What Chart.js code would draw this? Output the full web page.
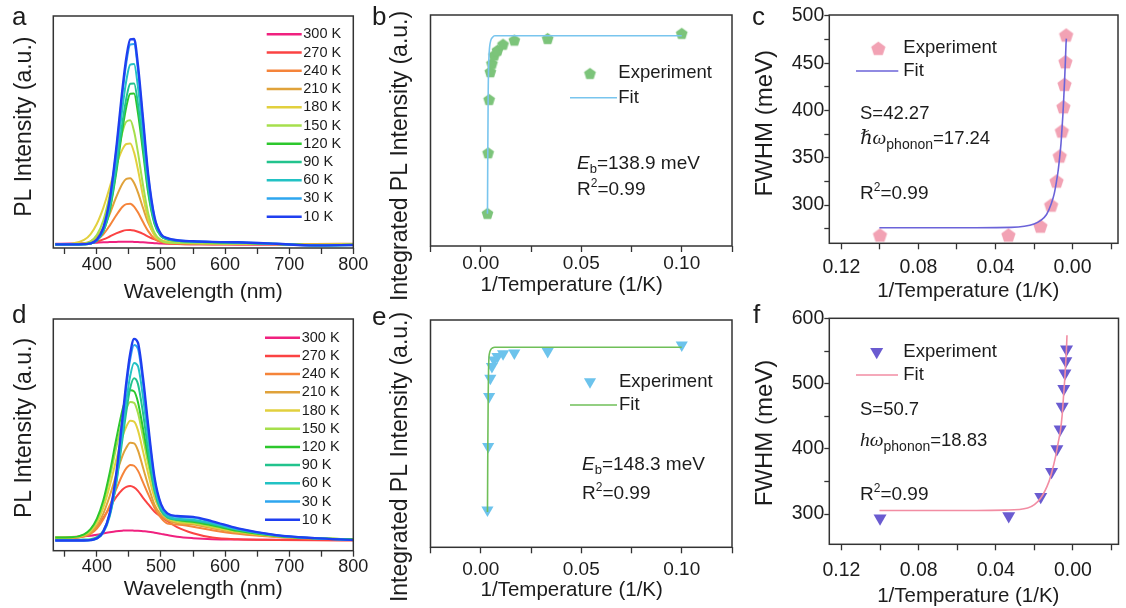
<!DOCTYPE html>
<html>
<head>
<meta charset="utf-8">
<script src="https://cdn.jsdelivr.net/npm/chart.js@4.4.0/dist/chart.umd.min.js"></script>
<style>
  html, body { margin: 0; padding: 0; background: #fff; }
  #wrap { position: relative; width: 1126px; height: 608px; overflow: hidden; background: #fff; }
  canvas { position: absolute; }
</style>
</head>
<body>
<div id="wrap"></div>
<script>
// ---- data ----
const wavelength = [335, 360, 380, 390, 400, 410, 420, 430, 440, 446, 452, 458, 464, 472, 480, 490, 500, 510, 525, 550, 580, 620, 680, 740, 800];
const tempLabels = ['300 K', '270 K', '240 K', '210 K', '180 K', '150 K', '120 K', '90 K', '60 K', '30 K', '10 K'];
const tempColors = ['#f0217f', '#fb4343', '#f5843a', '#e0a23a', '#e2d03e', '#a6df4c', '#2cc72c', '#22c38d', '#22c2c4', '#2ea6ef', '#1f3ff0'];

// panel a spectra (a.u.), same order as tempLabels
const a300 = [0.006, 0.007, 0.008, 0.009, 0.011, 0.013, 0.014, 0.015, 0.016, 0.016, 0.016, 0.015, 0.014, 0.013, 0.011, 0.009, 0.007, 0.006, 0.005, 0.004, 0.004, 0.003, 0.003, 0.003, 0.003];
const a270 = [0.004, 0.004, 0.006, 0.01, 0.016, 0.027, 0.041, 0.056, 0.068, 0.072, 0.073, 0.07, 0.064, 0.054, 0.041, 0.027, 0.016, 0.01, 0.005, 0.004, 0.003, 0.003, 0.003, 0.003, 0.004];
const a240 = [0.004, 0.004, 0.006, 0.012, 0.026, 0.052, 0.094, 0.143, 0.185, 0.198, 0.2, 0.186, 0.158, 0.111, 0.067, 0.03, 0.015, 0.009, 0.007, 0.006, 0.006, 0.006, 0.005, 0.005, 0.006];
const a210 = [0.003, 0.003, 0.008, 0.017, 0.04, 0.083, 0.15, 0.231, 0.298, 0.32, 0.323, 0.3, 0.255, 0.179, 0.108, 0.05, 0.024, 0.014, 0.01, 0.008, 0.007, 0.006, 0.005, 0.004, 0.005];
const a180 = [0.003, 0.006, 0.025, 0.052, 0.103, 0.18, 0.279, 0.384, 0.464, 0.489, 0.491, 0.448, 0.366, 0.236, 0.125, 0.045, 0.023, 0.015, 0.012, 0.01, 0.008, 0.007, 0.005, 0.003, 0.004];
const a150 = [0.003, 0.003, 0.007, 0.017, 0.049, 0.118, 0.242, 0.402, 0.548, 0.597, 0.603, 0.55, 0.449, 0.289, 0.154, 0.058, 0.022, 0.012, 0.01, 0.008, 0.007, 0.006, 0.004, 0.0, 0.002];
const a120 = [0.003, 0.003, 0.004, 0.007, 0.022, 0.066, 0.166, 0.345, 0.562, 0.67, 0.732, 0.733, 0.64, 0.449, 0.252, 0.1, 0.042, 0.027, 0.02, 0.016, 0.013, 0.011, 0.005, -0.001, 0.001];
const a90 = [0.003, 0.003, 0.004, 0.007, 0.021, 0.066, 0.172, 0.362, 0.595, 0.712, 0.78, 0.782, 0.684, 0.479, 0.269, 0.105, 0.044, 0.028, 0.02, 0.016, 0.013, 0.011, 0.005, -0.002, 0.0];
const a60 = [0.003, 0.003, 0.004, 0.007, 0.023, 0.073, 0.193, 0.405, 0.666, 0.797, 0.873, 0.876, 0.766, 0.536, 0.301, 0.117, 0.048, 0.03, 0.021, 0.017, 0.014, 0.012, 0.006, -0.002, 0.0];
const a30 = [0.003, 0.003, 0.004, 0.008, 0.025, 0.081, 0.213, 0.449, 0.738, 0.883, 0.97, 0.972, 0.85, 0.594, 0.333, 0.13, 0.052, 0.032, 0.023, 0.018, 0.015, 0.013, 0.006, -0.002, 0.0];
const a10 = [0.003, 0.003, 0.004, 0.008, 0.026, 0.083, 0.219, 0.461, 0.758, 0.907, 0.995, 0.997, 0.872, 0.61, 0.342, 0.133, 0.053, 0.033, 0.023, 0.018, 0.015, 0.013, 0.006, -0.002, 0.0];

// panel d spectra (a.u.)
const d300 = [0.012, 0.014, 0.018, 0.021, 0.026, 0.032, 0.038, 0.043, 0.046, 0.047, 0.047, 0.046, 0.045, 0.043, 0.041, 0.036, 0.03, 0.024, 0.016, 0.009, 0.004, 0.002, 0.001, 0.0, 0.0];
const d270 = [0.003, 0.007, 0.02, 0.038, 0.067, 0.109, 0.16, 0.211, 0.249, 0.262, 0.266, 0.259, 0.242, 0.208, 0.177, 0.139, 0.115, 0.093, 0.063, 0.033, 0.012, 0.003, 0.0, -0.002, -0.003];
const d240 = [0.008, 0.009, 0.017, 0.03, 0.056, 0.102, 0.17, 0.249, 0.322, 0.354, 0.37, 0.366, 0.342, 0.284, 0.226, 0.158, 0.109, 0.081, 0.076, 0.065, 0.048, 0.03, 0.014, 0.006, 0.004];
const d210 = [0.01, 0.011, 0.02, 0.036, 0.07, 0.13, 0.217, 0.32, 0.416, 0.456, 0.479, 0.476, 0.442, 0.356, 0.269, 0.173, 0.124, 0.098, 0.083, 0.076, 0.058, 0.036, 0.016, 0.007, 0.004];
const d180 = [0.012, 0.013, 0.024, 0.044, 0.086, 0.159, 0.266, 0.393, 0.511, 0.56, 0.588, 0.584, 0.542, 0.437, 0.327, 0.207, 0.141, 0.108, 0.09, 0.082, 0.064, 0.04, 0.018, 0.008, 0.004];
const d150 = [0.012, 0.013, 0.026, 0.05, 0.098, 0.182, 0.307, 0.454, 0.59, 0.648, 0.68, 0.676, 0.627, 0.506, 0.376, 0.235, 0.156, 0.115, 0.094, 0.086, 0.068, 0.043, 0.019, 0.008, 0.004];
const d120 = [0.012, 0.013, 0.028, 0.053, 0.105, 0.196, 0.332, 0.494, 0.644, 0.705, 0.739, 0.733, 0.681, 0.549, 0.408, 0.254, 0.167, 0.123, 0.099, 0.09, 0.072, 0.045, 0.02, 0.008, 0.004];
const d90 = [0.0, 0.0, 0.002, 0.004, 0.014, 0.046, 0.125, 0.275, 0.5, 0.635, 0.75, 0.798, 0.77, 0.625, 0.44, 0.24, 0.145, 0.11, 0.1, 0.095, 0.078, 0.05, 0.022, 0.008, 0.001];
const d60 = [-0.002, -0.002, -0.002, 0.0, 0.007, 0.036, 0.116, 0.283, 0.532, 0.687, 0.81, 0.873, 0.857, 0.703, 0.498, 0.27, 0.158, 0.117, 0.105, 0.1, 0.082, 0.051, 0.022, 0.008, 0.0];
const d30 = [-0.003, -0.003, -0.003, -0.001, 0.008, 0.04, 0.128, 0.312, 0.586, 0.757, 0.892, 0.962, 0.944, 0.774, 0.549, 0.297, 0.172, 0.127, 0.114, 0.11, 0.089, 0.055, 0.023, 0.009, 0.0];
const d10 = [-0.003, -0.003, -0.003, -0.001, 0.008, 0.041, 0.132, 0.322, 0.604, 0.78, 0.92, 0.992, 0.973, 0.798, 0.566, 0.306, 0.177, 0.131, 0.118, 0.114, 0.092, 0.057, 0.024, 0.009, 0.0];

// 1/T for 300, 270, ... 10 K
const invT = [0.00333, 0.0037, 0.00417, 0.00476, 0.00556, 0.00667, 0.00833, 0.0111, 0.0167, 0.0333, 0.1];
const intensityB = [0.142, 0.404, 0.635, 0.755, 0.791, 0.827, 0.848, 0.874, 0.892, 0.899, 0.921];
const intensityE = [0.164, 0.443, 0.663, 0.744, 0.795, 0.824, 0.839, 0.852, 0.855, 0.861, 0.89];
const fitXB = [0.00335, 0.0035, 0.0037, 0.004, 0.0044, 0.005, 0.0058, 0.007, 0.1];
const fitYB = [0.14, 0.4, 0.66, 0.8, 0.86, 0.89, 0.903, 0.91, 0.91];
const fitYE = [0.155, 0.42, 0.66, 0.82, 0.855, 0.87, 0.877, 0.88, 0.88];

const fwhmC = [479.9, 451.6, 427.7, 404, 378.3, 351.9, 325.4, 300, 277.8, 268.3, 268.3];
const fwhmF = [553.4, 535.4, 516.5, 492.5, 465.2, 430.4, 400, 365, 326.6, 296.9, 293.4];
const fitXC = [0.1003, 0.05, 0.032, 0.025, 0.02, 0.0167, 0.0135, 0.0111, 0.0095, 0.00833, 0.0075, 0.00667, 0.006, 0.00556, 0.005, 0.00476, 0.00417, 0.0037, 0.0034, 0.0032];
const fitYC = [276, 276, 276.3, 277.5, 280, 283.5, 290, 301, 312, 325, 336, 351, 365, 378, 396, 405, 430, 453, 470, 476];
const fitXF = [0.1003, 0.05, 0.035, 0.0235, 0.0167, 0.0124, 0.0111, 0.009, 0.00833, 0.0075, 0.0065, 0.0056, 0.0048, 0.0042, 0.0038, 0.0034, 0.0031];
const fitYF = [305.5, 305.5, 306, 309.2, 324.6, 350.2, 363, 388.6, 399, 412, 428.2, 452, 485, 510, 530, 552, 575];

// ticks
const tickWl = [350, 400, 450, 500, 550, 600, 650, 700, 750, 800];
const labelWl = [400, 500, 600, 700, 800];
const tickInvT = [-0.025, 0, 0.025, 0.05, 0.075, 0.1, 0.125];
const labelInvT = [0, 0.05, 0.1];
const tickInvTRev = [-0.02, 0, 0.02, 0.04, 0.06, 0.08, 0.1, 0.12];
const labelInvTRev = [0, 0.04, 0.08, 0.12];
const tickFwhmC = [275, 300, 325, 350, 375, 400, 425, 450, 475, 500];
const labelFwhmC = [300, 350, 400, 450, 500];
const tickFwhmF = [300, 350, 400, 450, 500, 550, 600];
const labelFwhmF = [300, 400, 500, 600];

// ---- drawing ----
const FONT = "'Liberation Sans', Arial, Helvetica, sans-serif";
const SERIF = "'Liberation Serif', 'DejaVu Serif', serif";
const INK = '#1c1c1c';
const AXIS = '#333333';
const wrap = document.getElementById('wrap');

const pentagonPath = (g, cx, cy, r) => {
  g.beginPath();
  for (let i = 0; i < 5; i++) {
    const ang = -Math.PI / 2 + i * 2 * Math.PI / 5;
    const px = cx + r * Math.cos(ang);
    const py = cy + r * Math.sin(ang);
    if (i) g.lineTo(px, py); else g.moveTo(px, py);
  }
  g.closePath();
};

const pentagonImage = (r, color) => {
  const c = document.createElement('canvas');
  const s = Math.ceil(r * 2 + 2);
  c.width = s; c.height = s;
  const g = c.getContext('2d');
  pentagonPath(g, s / 2, s / 2 + r * 0.1, r);
  g.fillStyle = color;
  g.fill();
  return c;
};

const drawTriangleDown = (ctx, x, y, r, color) => {
  ctx.beginPath();
  ctx.moveTo(x - r * 0.866, y - r * 0.5);
  ctx.lineTo(x + r * 0.866, y - r * 0.5);
  ctx.lineTo(x, y + r);
  ctx.closePath();
  ctx.fillStyle = color;
  ctx.fill();
};

const labelFor = (v, labels, digits) =>
  labels.some((l) => Math.abs(l - v) < 1e-9) ? Number(v).toFixed(digits) : '';

const text = (ctx, s, x, y, size, o = {}) => {
  ctx.font = `${o.style || ''} ${size}px ${o.family || FONT}`;
  ctx.fillStyle = INK;
  ctx.textAlign = o.align || 'left';
  ctx.textBaseline = o.base || 'alphabetic';
  if (o.rot) {
    ctx.save();
    ctx.translate(x, y);
    ctx.rotate(-Math.PI / 2);
    ctx.fillText(s, 0, 0);
    ctx.restore();
  } else {
    ctx.fillText(s, x, y);
  }
};

// pieces: [text, size, dy, style, family]
const runs = (ctx, x, y, pieces) => {
  let cx = x;
  pieces.forEach(([s, size, dy = 0, style = '', family = FONT]) => {
    ctx.font = `${style} ${size}px ${family}`;
    ctx.fillStyle = INK;
    ctx.textAlign = 'left';
    ctx.textBaseline = 'alphabetic';
    ctx.fillText(s, cx, y + dy);
    cx += ctx.measureText(s).width;
  });
};

const axisX = (o, height) => ({
  type: 'linear', position: 'bottom', min: o.min, max: o.max, reverse: !!o.reverse,
  afterBuildTicks: (s) => { s.ticks = o.ticks.map((v) => ({ value: v })); },
  afterFit: (s) => { s.height = height; },
  border: { display: false },
  grid: { display: true, drawOnChartArea: false, drawTicks: true, tickLength: o.tl || 6, tickColor: AXIS, tickWidth: 1.3 },
  ticks: {
    autoSkip: false, maxRotation: 0, minRotation: 0, padding: o.pad, color: INK,
    font: { family: FONT, size: o.size },
    callback: (v) => labelFor(v, o.labels, o.digits),
  },
});

const axisY = (o, width) => {
  const withTicks = !!o.ticks;
  const scale = {
    type: 'linear', position: 'left', min: o.min, max: o.max,
    afterFit: (s) => { s.width = width; },
    border: { display: false },
    grid: { display: withTicks, drawOnChartArea: false, drawTicks: true, tickLength: 5, tickColor: AXIS, tickWidth: 1.3 },
    ticks: {
      display: withTicks, autoSkip: false, padding: 0, color: INK,
      font: { family: FONT, size: o.size || 19 },
      callback: (v) => labelFor(v, o.labels || [], 0),
    },
  };
  if (withTicks) scale.afterBuildTicks = (s) => { s.ticks = o.ticks.map((v) => ({ value: v })); };
  return scale;
};

const buildPanel = (box, plot, o) => {
  const cv = document.createElement('canvas');
  cv.width = box.w; cv.height = box.h;
  cv.style.left = box.x + 'px';
  cv.style.top = box.y + 'px';
  wrap.appendChild(cv);
  return new Chart(cv.getContext('2d'), {
    type: 'scatter',
    data: { datasets: o.datasets },
    options: {
      responsive: false, animation: false, events: [],
      layout: { padding: { top: plot.t - box.y, right: box.x + box.w - plot.r, left: 0, bottom: 0 } },
      plugins: { legend: { display: false }, tooltip: { enabled: false } },
      scales: { x: axisX(o.x, box.y + box.h - plot.b), y: axisY(o.y, plot.l - box.x) },
    },
    plugins: [{
      id: 'decor',
      afterDraw(chart) {
        const ctx = chart.ctx;
        const a = chart.chartArea;
        ctx.save();
        ctx.strokeStyle = AXIS;
        ctx.lineWidth = 1.5;
        ctx.strokeRect(a.left, a.top, a.right - a.left, a.bottom - a.top);
        ctx.translate(-box.x, -box.y);
        o.decor(ctx);
        ctx.restore();
      },
    }],
  });
};

const spectra = (arrays) => arrays.map((arr, i) => ({
  data: wavelength.map((w, k) => ({ x: w, y: arr[k] })),
  showLine: true, pointRadius: 0, borderColor: tempColors[i],
  borderWidth: i === arrays.length - 1 ? 2.4 : 2, cubicInterpolationMode: 'monotone',
})).reverse();

const xy = (xs, ys) => xs.map((x, i) => ({ x, y: ys[i] }));

const spectraLegend = (ctx, x0, x1, tx, y0, step) => {
  tempLabels.forEach((lab, i) => {
    const y = y0 + i * step;
    ctx.strokeStyle = tempColors[i];
    ctx.lineWidth = 2.5;
    ctx.beginPath(); ctx.moveTo(x0, y); ctx.lineTo(x1, y); ctx.stroke();
    text(ctx, lab, tx, y, 14.5, { base: 'middle' });
  });
};

const fitLegend = (ctx, marker, mx, my, tx, lx0, lx1, ly, color) => {
  marker(ctx, mx, my);
  text(ctx, 'Experiment', tx, my, 18.5, { base: 'middle' });
  ctx.strokeStyle = color;
  ctx.lineWidth = 1.6;
  ctx.beginPath(); ctx.moveTo(lx0, ly); ctx.lineTo(lx1, ly); ctx.stroke();
  text(ctx, 'Fit', tx, ly, 18.5, { base: 'middle' });
};

const eb = (ctx, x, y, value) => runs(ctx, x, y, [['E', 19, 0, 'italic'], ['b', 13, 4], ['=' + value + ' meV', 19]]);
const r2 = (ctx, x, y) => runs(ctx, x, y, [['R', 19], ['2', 12, -8], ['=0.99', 19]]);

// marker colours
const greenPent = '#7cc47a';
const pinkPent = '#f2a2b4';
const blueTri = '#6cc3ec';
const purpleTri = '#6a5bd0';
const pentB = pentagonImage(6.2, greenPent);
const pentC = pentagonImage(7.5, pinkPent);

// panel a
buildPanel({ x: 0, y: 0, w: 370, h: 305 }, { l: 53.3, t: 16, r: 353.3, b: 248 }, {
  datasets: spectra([a300, a270, a240, a210, a180, a150, a120, a90, a60, a30, a10]),
  x: { min: 332, max: 800, ticks: tickWl, labels: labelWl, digits: 0, size: 18, pad: 0, tl: 6 },
  y: { min: -0.0145, max: 1.108 },
  decor: (ctx) => {
    text(ctx, 'a', 12, 25, 26);
    text(ctx, 'PL Intensity (a.u.)', 31, 126.7, 23, { rot: true, align: 'center' });
    text(ctx, 'Wavelength (nm)', 203.3, 298, 21, { align: 'center' });
    spectraLegend(ctx, 266.7, 301.7, 303.3, 34.3, 18.24);
  },
});

// panel b
buildPanel({ x: 370, y: 0, w: 380, h: 305 }, { l: 430.5, t: 15, r: 732, b: 246 }, {
  datasets: [
    { data: xy(fitXB, fitYB), showLine: true, pointRadius: 0, borderColor: '#79c5ee', borderWidth: 1.6, cubicInterpolationMode: 'monotone' },
    { data: xy(invT, intensityB), showLine: false, pointStyle: pentB, pointRadius: 6 },
  ],
  x: { min: -0.025, max: 0.125, ticks: tickInvT, labels: labelInvT, digits: 2, size: 19, pad: 0, tl: 6 },
  y: { min: 0, max: 1 },
  decor: (ctx) => {
    text(ctx, 'b', 372, 25, 26);
    text(ctx, 'Integrated PL Intensity (a.u.)', 407, 156, 23, { rot: true, align: 'center' });
    text(ctx, '1/Temperature (1/K)', 571.7, 290.5, 20.5, { align: 'center' });
    fitLegend(ctx, (c, x, y) => c.drawImage(pentB, x - pentB.width / 2, y - pentB.height / 2), 590, 73.3, 618.3, 570, 617, 97.7, '#79c5ee');
    eb(ctx, 577, 168.5, '138.9');
    r2(ctx, 577, 194.8);
  },
});

// panel c
buildPanel({ x: 750, y: 0, w: 376, h: 305 }, { l: 829.3, t: 15, r: 1121.7, b: 243.3 }, {
  datasets: [
    { data: xy(fitXC, fitYC), showLine: true, pointRadius: 0, borderColor: '#6b63d9', borderWidth: 1.6, cubicInterpolationMode: 'monotone' },
    { data: xy(invT, fwhmC), showLine: false, pointStyle: pentC, pointRadius: 7 },
  ],
  x: { min: -0.0236, max: 0.1263, reverse: true, ticks: tickInvTRev, labels: labelInvTRev, digits: 2, size: 19.5, pad: 6.5, tl: 6 },
  y: { min: 259.5, max: 501, ticks: tickFwhmC, labels: labelFwhmC, size: 19.5 },
  decor: (ctx) => {
    text(ctx, 'c', 752, 25, 26);
    text(ctx, 'FWHM (meV)', 772, 123.3, 24, { rot: true, align: 'center' });
    text(ctx, '1/Temperature (1/K)', 968.3, 296.7, 20.5, { align: 'center' });
    fitLegend(ctx, (c, x, y) => c.drawImage(pentC, x - pentC.width / 2, y - pentC.height / 2), 878.3, 48.3, 903.3, 856, 898.3, 71, '#6b63d9');
    runs(ctx, 860, 118.5, [['S=42.27', 18.5]]);
    runs(ctx, 860, 143.5, [['\u210F\u03C9', 19.5, 0, 'italic', SERIF], ['phonon', 14, 5], ['=17.24', 18.5]]);
    r2(ctx, 860, 198.5);
  },
});

// panel d
buildPanel({ x: 0, y: 300, w: 370, h: 308 }, { l: 53.3, t: 319, r: 353.3, b: 550.7 }, {
  datasets: spectra([d300, d270, d240, d210, d180, d150, d120, d90, d60, d30, d10]),
  x: { min: 332, max: 800, ticks: tickWl, labels: labelWl, digits: 0, size: 18, pad: 0, tl: 6 },
  y: { min: -0.053, max: 1.09 },
  decor: (ctx) => {
    text(ctx, 'd', 12, 323, 26);
    text(ctx, 'PL Intensity (a.u.)', 31, 428, 23, { rot: true, align: 'center' });
    text(ctx, 'Wavelength (nm)', 203.3, 595, 21, { align: 'center' });
    spectraLegend(ctx, 265, 300, 301.7, 337.7, 18.2);
  },
});

// panel e
buildPanel({ x: 370, y: 300, w: 380, h: 308 }, { l: 430.5, t: 320, r: 732, b: 547.3 }, {
  datasets: [
    { data: xy(fitXB, fitYE), showLine: true, pointRadius: 0, borderColor: '#6fbf58', borderWidth: 1.6, cubicInterpolationMode: 'monotone' },
    { data: xy(invT, intensityE), showLine: false, pointStyle: 'triangle', rotation: 180, pointRadius: 7, backgroundColor: blueTri, borderColor: blueTri, borderWidth: 0 },
  ],
  x: { min: -0.025, max: 0.125, ticks: tickInvT, labels: labelInvT, digits: 2, size: 19, pad: 5, tl: 6 },
  y: { min: 0, max: 1 },
  decor: (ctx) => {
    text(ctx, 'e', 372, 325, 26);
    text(ctx, 'Integrated PL Intensity (a.u.)', 407, 457, 23, { rot: true, align: 'center' });
    text(ctx, '1/Temperature (1/K)', 571.7, 596, 20.5, { align: 'center' });
    fitLegend(ctx, (c, x, y) => drawTriangleDown(c, x, y, 7, blueTri), 590, 381.7, 619, 570, 617, 405, '#6fbf58');
    eb(ctx, 582, 469.8, '148.3');
    r2(ctx, 582, 498.5);
  },
});

// panel f
buildPanel({ x: 750, y: 300, w: 376, h: 308 }, { l: 829.3, t: 318.3, r: 1121.7, b: 544.3 }, {
  datasets: [
    { data: xy(fitXF, fitYF), showLine: true, pointRadius: 0, borderColor: '#f28da3', borderWidth: 1.6, cubicInterpolationMode: 'monotone' },
    { data: xy(invT, fwhmF), showLine: false, pointStyle: 'triangle', rotation: 180, pointRadius: 7.5, backgroundColor: purpleTri, borderColor: purpleTri, borderWidth: 0 },
  ],
  x: { min: -0.0236, max: 0.1263, reverse: true, ticks: tickInvTRev, labels: labelInvTRev, digits: 2, size: 19.5, pad: 8.5, tl: 6 },
  y: { min: 253.4, max: 601, ticks: tickFwhmF, labels: labelFwhmF, size: 19.5 },
  decor: (ctx) => {
    text(ctx, 'f', 753, 323, 26);
    text(ctx, 'FWHM (meV)', 772, 433, 24, { rot: true, align: 'center' });
    text(ctx, '1/Temperature (1/K)', 968.3, 601.7, 20.5, { align: 'center' });
    fitLegend(ctx, (c, x, y) => drawTriangleDown(c, x, y, 7.5, purpleTri), 876.7, 351.7, 903.3, 856, 898, 375, '#f28da3');
    runs(ctx, 860, 415, [['S=50.7', 18.5]]);
    runs(ctx, 860, 446, [['h\u03C9', 19.5, 0, 'italic', SERIF], ['phonon', 14, 5], ['=18.83', 18.5]]);
    r2(ctx, 860, 500);
  },
});
</script>
</body>
</html>
